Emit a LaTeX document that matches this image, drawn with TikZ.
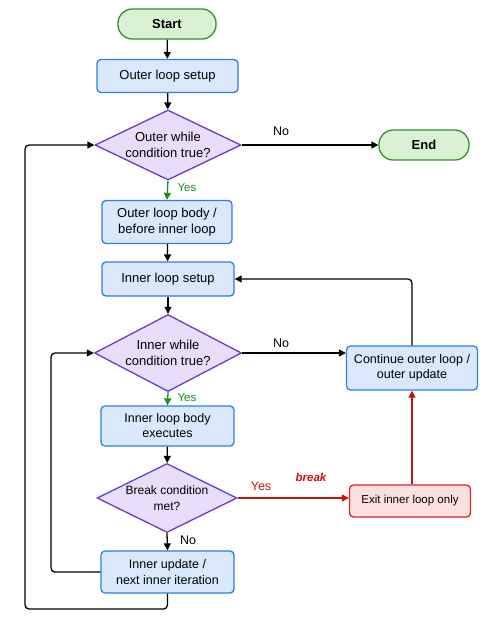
\documentclass[tikz,border=0pt]{standalone}
\usepackage{fontspec}
\setmainfont{Liberation Sans}
\usepackage{xcolor}
\usepackage{tikz}
\usetikzlibrary{positioning,arrows.meta,shapes.geometric}

\definecolor{termfill}{HTML}{DAF2D4}
\definecolor{termdraw}{HTML}{3C8C32}
\definecolor{procfill}{HTML}{DAE8FC}
\definecolor{procdraw}{HTML}{2E7DE1}
\definecolor{decfill}{HTML}{E8DEFA}
\definecolor{decdraw}{HTML}{6A3AC8}
\definecolor{exitfill}{HTML}{FCE0E0}
\definecolor{exitdraw}{HTML}{D22828}
\definecolor{yesgreen}{HTML}{1E8C1E}
\definecolor{breakred}{HTML}{CC1111}

\begin{document}
\begin{tikzpicture}[x=1pt, y=-1pt,
  every node/.style={font=\fontsize{13}{16}\selectfont, align=center},
  terminal/.style={draw=termdraw, fill=termfill, line width=1.3pt, rounded corners=14pt,
    minimum height=30pt, font=\fontsize{13}{16}\selectfont\bfseries},
  process/.style={draw=procdraw, fill=procfill, line width=1.3pt, rounded corners=4pt},
  decision/.style={draw=decdraw, fill=decfill, line width=1.3pt, diamond, aspect=2.1, inner sep=0pt},
  exitbox/.style={draw=exitdraw, fill=exitfill, line width=1.3pt, rounded corners=4pt},
  flow/.style={-{Triangle[length=7pt,width=7pt]}, line width=1.3pt, rounded corners=4pt},
  yesflow/.style={flow, yesgreen},
  breakflow/.style={flow, breakred},
  lbl/.style={font=\fontsize{12.5}{14}\selectfont}
]
\useasboundingbox (0,0) rectangle (500,624);
% outer loop
\node[terminal, minimum width=98pt] (start) at (167,24) {Start};
\node[process, minimum width=141pt, minimum height=33pt] (osetup) at (167.5,76) {Outer loop setup};
\node[decision, minimum width=146pt, minimum height=70pt] (ocond) at (168,145) {Outer while\\condition true?};
\node[terminal, minimum width=90pt] (end) at (424,145) {End};
\node[process, minimum width=130pt, minimum height=43pt] (obody) at (167,222) {Outer loop body /\\before inner loop};
% inner loop
\node[process, minimum width=132pt, minimum height=34pt] (isetup) at (168,279) {Inner loop setup};
\node[decision, minimum width=147pt, minimum height=77pt] (icond) at (168,353) {Inner while\\condition true?};
\node[process, minimum width=131pt, minimum height=44pt, font=\fontsize{12.5}{15.5}\selectfont] (cont) at (412,368) {Continue outer loop /\\outer update};
\node[process, minimum width=133pt, minimum height=40pt, font=\fontsize{12.5}{15}\selectfont] (ibody) at (167.5,426) {Inner loop body\\executes};
\node[decision, minimum width=140pt, minimum height=69pt, font=\fontsize{12}{15.5}\selectfont] (brk) at (167,498) {Break condition\\met?};
\node[exitbox, minimum width=121pt, minimum height=32pt, font=\fontsize{11.5}{14}\selectfont] (exit) at (410,501) {Exit inner loop only};
\node[process, minimum width=133pt, minimum height=42pt, font=\fontsize{12.5}{15.5}\selectfont] (iupd) at (167.5,572) {Inner update /\\next inner iteration};
% loop-back corners
\coordinate (iback) at (51,353);
\coordinate (oback) at (25,609);
% connectors
\draw[flow] (start) -- (osetup);
\draw[flow] (osetup) -- (ocond);
\draw[flow] (ocond.east) -- (end.west);
\node[lbl] (ono) at (281,131) {No};
\draw[yesflow] (ocond.south) -- (obody.north);
\node[lbl, yesgreen, font=\fontsize{11.5}{13}\selectfont] (oyes) at (187,188) {Yes};
\draw[flow] (obody) -- (isetup);
\draw[flow] (isetup) -- (icond);
\draw[flow] (icond.east) -- (icond.east -| cont.west);
\node[lbl] (ino) at (281,343) {No};
\draw[yesflow] (icond.south) -- (ibody.north);
\node[lbl, yesgreen, font=\fontsize{11.5}{13}\selectfont] (iyes) at (187,398) {Yes};
\draw[flow] (ibody) -- (brk);
\draw[breakflow] (brk.east) -- (brk.east -| exit.west);
\node[lbl, breakred] (byes) at (261,486) {Yes};
\node[lbl, breakred, font=\fontsize{11.5}{13}\selectfont\bfseries\itshape] (bword) at (311,477) {break};
\draw[flow] (brk.south) -- (iupd.north);
\node[lbl] (bno) at (188,540) {No};
\draw[breakflow] (exit.north -| cont.south) -- (cont.south);
\draw[flow] (cont.north) |- (isetup.east);
\draw[flow] (iupd.west) -| (iback) -- (icond.west);
\draw[flow] (iupd.south) |- (oback) |- (ocond.west);
\end{tikzpicture}
\end{document}
